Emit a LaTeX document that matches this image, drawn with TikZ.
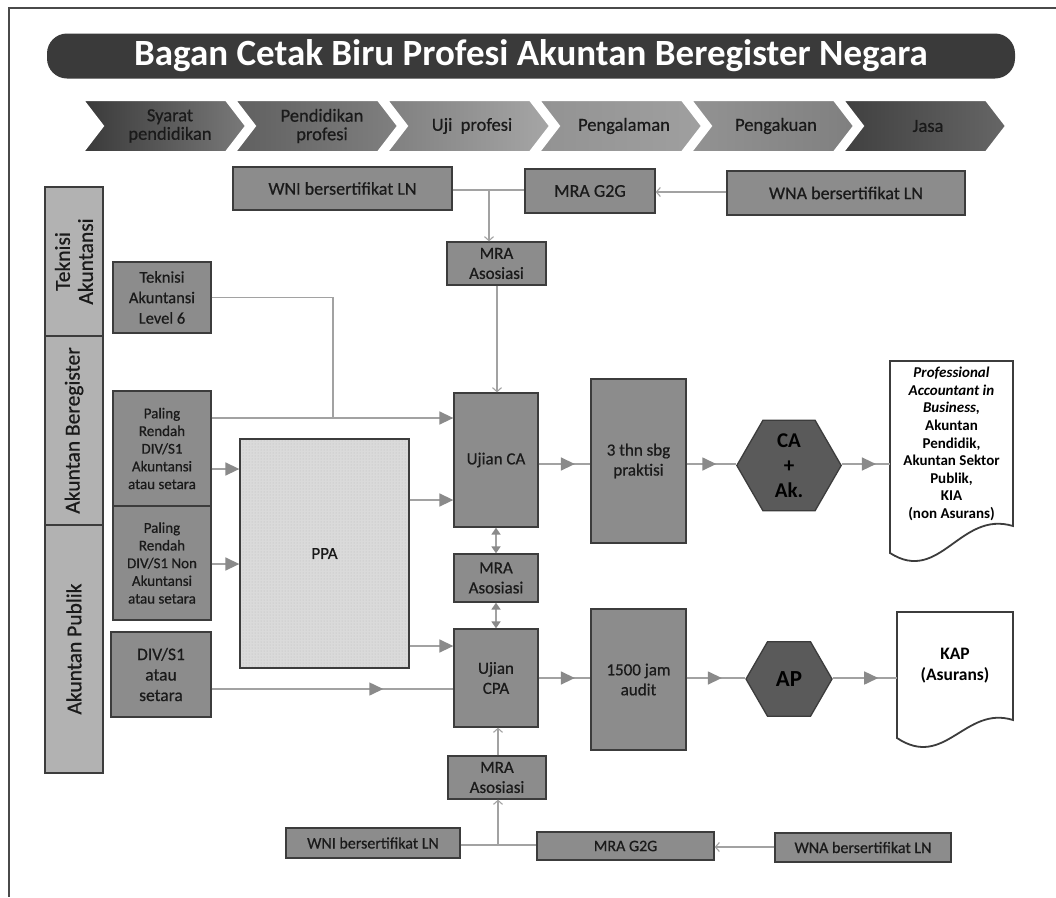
\documentclass[tikz,border=0pt]{standalone}
\usepackage{fontspec}
\setmainfont{Carlito}
\newfontfamily\medf{Carlito}[FakeBold=0.6]
\usetikzlibrary{arrows.meta,shapes.geometric,decorations.markings,patterns}
\definecolor{boxfill}{HTML}{8C8C8C}
\definecolor{boxline}{HTML}{3C3C3C}
\definecolor{bandfill}{HTML}{B2B2B2}
\definecolor{txt}{HTML}{1A1A1A}
\definecolor{linegray}{HTML}{A2A2A2}
\definecolor{arrgray}{HTML}{8A8A8A}
\definecolor{hexfill}{HTML}{5A5A5A}
\definecolor{titlefill}{HTML}{3A3A3A}
\definecolor{ppafill}{HTML}{DADADA}
\definecolor{framecol}{HTML}{4A4A4A}
\tikzset{
  gbox/.style={draw=boxline, fill=boxfill, line width=1.3pt, text=txt, align=center,
    inner sep=2pt, font=\medf\fontsize{17}{20}\selectfont},
  lbox/.style={gbox, font=\medf\fontsize{15}{17.7}\selectfont},
  bandbox/.style={draw=boxline, fill=bandfill, line width=1.3pt, text=txt, align=center,
    rotate=90, minimum height=58pt, inner sep=1pt, font=\medf\fontsize{21.5}{23}\selectfont},
  hexbox/.style={regular polygon, regular polygon sides=6, draw=boxline, fill=hexfill,
    line width=1.3pt, minimum size=86pt, inner sep=0pt, align=center, text=black,
    font=\bfseries\fontsize{21}{25}\selectfont},
  doctext/.style={align=center, text=black, inner sep=0pt},
  chevtext/.style={align=center, text=txt, font=\medf\fontsize{18.5}{18.5}\selectfont},
  conn/.style={draw=linegray, line width=1.5pt},
  thin/.style={draw=linegray, line width=1.1pt},
  tri/.style={-{Triangle[length=14pt,width=13pt,color=arrgray]}},
  barb/.style={-{Straight Barb[length=4pt,width=9pt]}},
  dbl/.style={draw=linegray, line width=2pt,
    {Triangle[length=7pt,width=9pt,color=arrgray]}-{Triangle[length=7pt,width=9pt,color=arrgray]}},
  midarr/.style={postaction={decorate}, decoration={markings,
    mark=at position #1 with {\arrow{Triangle[length=14pt,width=13pt,color=arrgray]}}}},
  chev/.style={draw=white, line width=2pt}
}
\begin{document}
\begin{tikzpicture}[x=1pt,y=-1pt]
\useasboundingbox (0,0) rectangle (1056,897);
\fill[white] (0,0) rectangle (1056,897);
% frame
\draw[framecol, line width=1.5pt] (1056,8) -- (9,8) -- (9,897);

% title banner
\node[fill=titlefill, rounded corners=20pt, minimum width=968pt, minimum height=45pt,
  text=white, font=\bfseries\fontsize{37}{40}\selectfont, inner sep=0pt] (title) at (531,56)
  {Bagan Cetak Biru Profesi Akuntan Beregister Negara};

% chevrons
\path[chev, left color=gray!45!black, right color=gray!95!black] (83,100) -- (226,100) -- (246,126) -- (226,152) -- (83,152) -- (103,126) -- cycle;
\path[chev, left color=gray!75!black, right color=gray] (235,100) -- (378,100) -- (398,126) -- (378,152) -- (235,152) -- (255,126) -- cycle;
\path[chev, left color=gray, right color=gray!70!white] (387,100) -- (530,100) -- (550,126) -- (530,152) -- (387,152) -- (407,126) -- cycle;
\path[chev, left color=gray!85!white, right color=gray!75!white] (539,100) -- (682,100) -- (702,126) -- (682,152) -- (539,152) -- (559,126) -- cycle;
\path[chev, left color=gray!85!white, right color=gray] (691,100) -- (834,100) -- (854,126) -- (834,152) -- (691,152) -- (711,126) -- cycle;
\path[chev, left color=gray!50!black, right color=gray!80!black] (843,100) -- (986,100) -- (1006,126) -- (986,152) -- (843,152) -- (863,126) -- cycle;
\node[chevtext] (c1) at (170,126) {Syarat\\pendidikan};
\node[chevtext] (c2) at (322,126) {Pendidikan\\profesi};
\node[chevtext] (c3) at (472,126) {Uji\ \ profesi};
\node[chevtext] (c4) at (624,126) {Pengalaman};
\node[chevtext] (c5) at (776,126) {Pengakuan};
\node[chevtext] (c6) at (928,126) {Jasa};

% top row
\node[gbox, minimum width=219pt, minimum height=43pt, font=\medf\fontsize{18}{20}\selectfont] (wni1) at (342.5,188.5) {WNI bersertifikat LN};
\node[gbox, minimum width=130pt, minimum height=44pt, font=\medf\fontsize{18}{20}\selectfont] (g2g1) at (590,191) {MRA G2G};
\node[gbox, minimum width=238pt, minimum height=44pt, font=\medf\fontsize{18}{20}\selectfont] (wna1) at (846,193) {WNA bersertifikat LN};
\node[gbox, minimum width=99pt, minimum height=43pt] (mra1) at (496.5,263.5) {MRA\\Asosiasi};

% left bands
\node[bandbox, minimum width=149pt] (bt) at (74,261.5) {Teknisi\\Akuntansi};
\node[bandbox, minimum width=189pt] (bb) at (74,430.5) {Akuntan Beregister};
\node[bandbox, minimum width=248pt] (bp) at (74,649) {Akuntan Publik};

% left boxes
\node[lbox, minimum width=98pt, minimum height=71pt, font=\medf\fontsize{16.5}{20.5}\selectfont] (tek) at (162,297.5) {Teknisi\\Akuntansi\\Level 6};
\node[lbox, minimum width=98pt, minimum height=115pt] (pr1) at (162,448.5) {Paling\\Rendah\\DIV/S1\\Akuntansi\\atau setara};
\node[lbox, minimum width=98pt, minimum height=114pt] (pr2) at (162,563) {Paling\\Rendah\\DIV/S1 Non\\Akuntansi\\atau setara};
\node[lbox, minimum width=100pt, minimum height=85pt, font=\medf\fontsize{17.5}{20.5}\selectfont] (div) at (161,674.5) {DIV/S1\\atau\\setara};

% PPA
\fill[ppafill] (240,439) rectangle (409,668);
\fill[pattern=dots, pattern color=gray!55] (240,439) rectangle (409,668);
\node[draw=boxline, line width=1.3pt, minimum width=169pt, minimum height=229pt,
  text=txt, font=\medf\fontsize{17}{20}\selectfont] (ppa) at (324.5,553.5) {PPA};

% middle column
\node[gbox, minimum width=84pt, minimum height=134pt] (uca) at (496,460) {Ujian CA};
\node[gbox, minimum width=84pt, minimum height=48pt] (mra2) at (496,578) {MRA\\Asosiasi};
\node[gbox, minimum width=84pt, minimum height=98pt] (ucpa) at (496,678) {Ujian\\CPA};

\node[gbox, minimum width=95pt, minimum height=164pt] (thn) at (638.5,461) {3 thn sbg\\praktisi};
\node[gbox, minimum width=95pt, minimum height=141pt] (jam) at (638.5,679.5) {1500 jam\\audit};

\node[hexbox] (hex1) at (789,465.5) {CA\\+\\Ak.};
\node[hexbox, font=\bfseries\fontsize{23}{25}\selectfont] (hex2) at (789,679) {AP};

% documents
\draw[boxline, line width=1.8pt, fill=white] (890,361) -- (1013,361) -- (1013,526)
  .. controls (960,510) and (940,585) .. (890,553) -- cycle;
\node[doctext, minimum width=123pt, minimum height=165pt, font=\bfseries\fontsize{15}{17.6}\selectfont] (doc1) at (951.5,444)
  {\textit{Professional}\\\textit{Accountant in}\\\textit{Business,}\\Akuntan\\Pendidik,\\Akuntan Sektor\\Publik,\\KIA\\(non Asurans)};

\draw[boxline, line width=1.8pt, fill=white] (897,612) -- (1013,612) -- (1013,720)
  .. controls (965,705) and (945,770) .. (897,738) -- cycle;
\node[doctext, minimum width=116pt, minimum height=108pt, font=\bfseries\fontsize{17.5}{21}\selectfont] (doc2) at (955,666) {KAP\\(Asurans)};

% bottom row
\node[gbox, minimum width=174pt, minimum height=30pt, font=\medf\fontsize{16}{19}\selectfont] (wni2) at (373,843) {WNI bersertifikat LN};
\node[gbox, minimum width=177pt, minimum height=28pt, font=\medf\fontsize{16}{19}\selectfont] (g2g2) at (625.5,846) {MRA G2G};
\node[gbox, minimum width=176pt, minimum height=29pt, font=\medf\fontsize{16}{19}\selectfont] (wna2) at (863,847.5) {WNA bersertifikat LN};
\node[gbox, minimum width=98pt, minimum height=43pt] (mra3) at (497,777.5) {MRA\\Asosiasi};

% junction coordinates
\coordinate (jt) at (489,190);
\coordinate (j1) at (333,418);
\coordinate (jb) at (498,845);

% top connectors
\draw[thin] (wni1.east |- jt) -- (g2g1.west |- jt);
\draw[thin, barb] (wna1.west |- 0,192) -- (g2g1.east |- 0,192);
\draw[thin, barb] (jt) -- (jt |- mra1.north);
\draw[thin, barb] (mra1.south -| 497,0) -- (uca.north -| 497,0);

% left connectors
\draw[thin] (tek.east) -| (j1);
\draw[conn, tri] (pr1.east |- j1) -- (uca.west |- j1);
\draw[conn, tri] (pr1.east |- 0,469) -- (ppa.west |- 0,469);
\draw[conn, tri] (pr2.east |- 0,564) -- (ppa.west |- 0,564);
\draw[conn, tri] (ppa.east |- 0,500) -- (uca.west |- 0,500);
\draw[conn, tri] (ppa.east |- 0,646) -- (ucpa.west |- 0,646);
\draw[conn, midarr=0.71] (div.east |- 0,689) -- (ucpa.west |- 0,689);

% vertical double arrows
\draw[dbl] (uca.south) -- (mra2.north);
\draw[dbl] (mra2.south) -- (ucpa.north);

% right flows
\draw[conn, midarr=0.7] (uca.east |- 0,464) -- (thn.west |- 0,464);
\draw[conn, midarr=0.6] (thn.east |- 0,464) -- (hex1.west |- 0,464);
\draw[conn, midarr=0.71] (hex1.east |- 0,464) -- (doc1.west |- 0,464);
\draw[conn, midarr=0.7] (ucpa.east |- 0,678) -- (jam.west |- 0,678);
\draw[conn, midarr=0.6] (jam.east |- 0,678) -- (hex2.west |- 0,678);
\draw[conn, midarr=0.71] (hex2.east |- 0,678) -- (doc2.west |- 0,678);

% bottom connectors
\draw[thin] (wni2.east |- jb) -- (g2g2.west |- jb);
\draw[thin, barb] (wna2.west |- 0,847) -- (g2g2.east |- 0,847);
\draw[thin, barb] (jb) -- (jb |- mra3.south);
\draw[thin, barb] (mra3.north -| 498,0) -- (ucpa.south -| 498,0);
\end{tikzpicture}
\end{document}
